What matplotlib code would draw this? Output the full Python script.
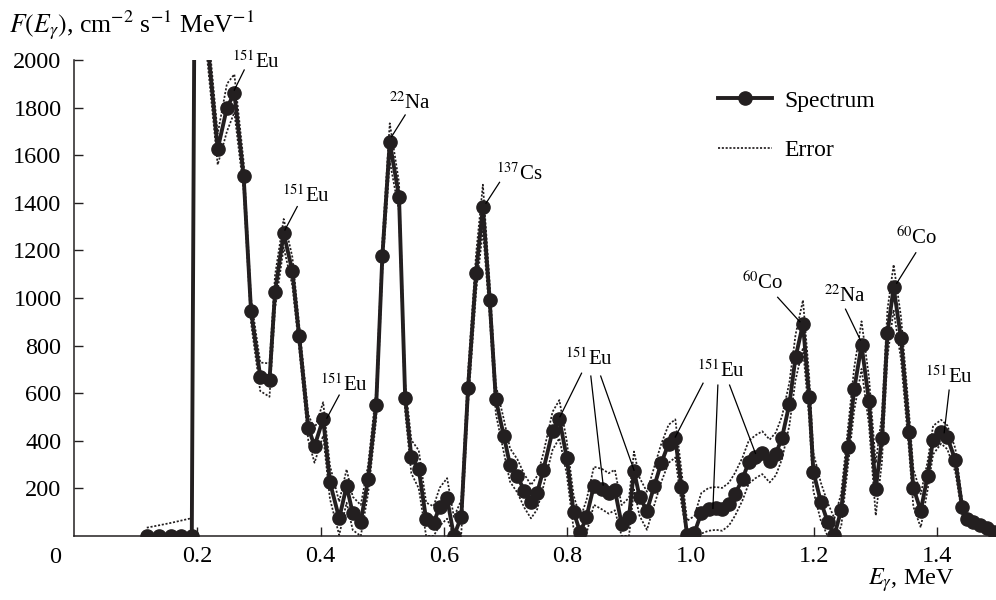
"""Gamma-ray spectrum F(E) with error band and isotope line labels."""

import matplotlib

matplotlib.use("Agg")

import matplotlib.pyplot as plt
import numpy as np

# --------------------------------------------------------------------------- #
# Data
# --------------------------------------------------------------------------- #

energy = [
    0.118, 0.138, 0.157, 0.174, 0.191, 0.196, 0.233, 0.248, 0.260, 0.275,
    0.287, 0.302, 0.317, 0.326, 0.340, 0.354, 0.365, 0.380, 0.390, 0.404,
    0.415, 0.430, 0.442, 0.452, 0.465, 0.477, 0.490, 0.500, 0.512, 0.527,
    0.537, 0.547, 0.559, 0.571, 0.583, 0.593, 0.605, 0.616, 0.628, 0.639,
    0.652, 0.663, 0.674, 0.684, 0.697, 0.707, 0.719, 0.730, 0.741, 0.751,
    0.761, 0.776, 0.787, 0.799, 0.810, 0.821, 0.831, 0.843, 0.856, 0.867,
    0.877, 0.888, 0.900, 0.908, 0.917, 0.929, 0.941, 0.952, 0.964, 0.975,
    0.985, 0.994, 1.006, 1.017, 1.029, 1.041, 1.051, 1.062, 1.072, 1.084,
    1.094, 1.105, 1.116, 1.128, 1.138, 1.148, 1.160, 1.170, 1.182, 1.192,
    1.199, 1.211, 1.222, 1.233, 1.244, 1.255, 1.265, 1.277, 1.289, 1.300,
    1.310, 1.319, 1.329, 1.341, 1.354, 1.361, 1.373, 1.384, 1.393, 1.406,
    1.416, 1.429, 1.440, 1.448, 1.458, 1.469, 1.480, 1.491,
]

flux = [
    0, 0, 0, 0, 0, 2630, 1625, 1800, 1860, 1514,
    947, 669, 655, 1026, 1272, 1113, 841, 455, 378, 492,
    226, 74, 210, 95, 60, 240, 550, 1176, 1654, 1426,
    581, 333, 280, 70, 55, 123, 158, 0, 81, 623,
    1106, 1381, 992, 574, 420, 298, 252, 190, 144, 182,
    277, 442, 491, 329, 102, 15, 81, 211, 197, 179,
    193, 50, 81, 275, 165, 106, 211, 305, 387, 410,
    205, 4, 14, 95, 112, 116, 112, 134, 176, 240,
    310, 333, 350, 315, 345, 413, 555, 751, 891, 583,
    268, 144, 60, 4, 109, 375, 616, 802, 567, 196,
    410, 852, 1045, 830, 438, 203, 106, 252, 403, 438,
    415, 319, 123, 70, 60, 46, 32, 18,
]

flux_err = [
    35, 45, 55, 65, 75, 100, 65, 100, 80, 60,
    50, 60, 70, 70, 60, 60, 50, 55, 70, 70,
    70, 70, 70, 70, 70, 60, 60, 60, 80, 60,
    60, 70, 80, 70, 70, 80, 85, 80, 70, 70,
    80, 95, 70, 60, 70, 70, 70, 70, 70, 70,
    70, 80, 80, 70, 70, 60, 70, 80, 85, 85,
    85, 80, 80, 80, 80, 80, 80, 80, 80, 80,
    70, 60, 70, 85, 90, 90, 90, 90, 90, 90,
    90, 90, 90, 90, 90, 90, 90, 95, 100, 90,
    80, 80, 80, 70, 70, 80, 90, 100, 100, 110,
    100, 100, 95, 90, 80, 80, 70, 60, 60, 50,
    50, 50, 30, 20, 15, 10, 10, 10,
]

# Isotope labels: mass number, element, text anchor (E, F), leader lines
line_labels = [
    ("151", "Eu", (0.256, 1993), [((0.276, 1958), (0.260, 1874))]),
    ("151", "Eu", (0.337, 1426), [((0.362, 1384), (0.342, 1286))]),
    ("151", "Eu", (0.399, 634), [((0.430, 592), (0.410, 495))]),
    ("22", "Na", (0.510, 1818), [((0.537, 1769), (0.515, 1678))]),
    ("137", "Cs", (0.685, 1521), [((0.690, 1486), (0.668, 1398))]),
    ("151", "Eu", (0.796, 742), [((0.823, 684), (0.788, 501)),
                                 ((0.838, 672), (0.858, 214)),
                                 ((0.854, 672), (0.908, 277))]),
    ("151", "Eu", (1.010, 693), [((1.020, 642), (0.975, 416)),
                                 ((1.044, 634), (1.036, 116)),
                                 ((1.063, 634), (1.105, 347))]),
    ("60", "Co", (1.083, 1062), [((1.141, 1003), (1.177, 900))]),
    ("22", "Na", (1.216, 1007), [((1.251, 953), (1.275, 824))]),
    ("60", "Co", (1.333, 1251), [((1.365, 1190), (1.334, 1062))]),
    ("151", "Eu", (1.380, 669), [((1.419, 613), (1.411, 434))]),
]

INK = "#231f20"
DOTTED = (0, (1.2, 1.0))

plt.rcParams["font.family"] = ["Liberation Serif", "DejaVu Serif"]
plt.rcParams["mathtext.fontset"] = "stix"


def _draw_spectrum(ax):
    """Spectrum with markers and dotted upper/lower error curves."""
    e = np.asarray(energy)
    f = np.asarray(flux, dtype=float)
    s = np.asarray(flux_err, dtype=float)

    upper = f + s
    lower = np.clip(f - s, 0.0, None)
    ax.plot(e, upper, color=INK, lw=1.25, ls=DOTTED, zorder=2, label="Error")
    ax.plot(e, lower, color=INK, lw=1.25, ls=DOTTED, zorder=2)
    ax.plot(e, f, "-o", color=INK, lw=2.8, markersize=9.5, zorder=3,
            label="Spectrum")


def _draw_labels(ax):
    """Isotope names with thin leader lines to the peaks."""
    for mass, elem, (tx, ty), leaders in line_labels:
        ax.text(tx, ty, rf"$^{{{mass}}}$" + elem, ha="left", va="center",
                fontsize=15, color="black", zorder=5)
        for (x0, y0), (x1, y1) in leaders:
            ax.plot([x0, x1], [y0, y1], color="black", lw=0.9, zorder=4)


fig = plt.figure(figsize=(9.96, 6.0), dpi=100)
ax = fig.add_axes([74 / 996, 64 / 600, 922 / 996, 476 / 600])

_draw_spectrum(ax)
_draw_labels(ax)

ax.set_xlim(0, 1.495)
ax.set_ylim(0, 2000)
ax.set_xticks([0.2, 0.4, 0.6, 0.8, 1.0, 1.2, 1.4])
ax.set_yticks(np.arange(200, 2001, 200))
ax.tick_params(direction="in", length=6.5, width=1.0, labelsize=17.5,
               color=INK)
ax.tick_params(axis="x", pad=7)
ax.tick_params(axis="y", pad=9)

for side in ("top", "right"):
    ax.spines[side].set_visible(False)
for side in ("left", "bottom"):
    ax.spines[side].set_linewidth(1.1)
    ax.spines[side].set_color(INK)

# shared origin label
ax.text(-0.0206, -0.046, "0", transform=ax.transAxes, ha="center",
        va="center", fontsize=17.5)

ax.set_xlabel(r"$E_\gamma$, MeV", fontsize=17.5, ha="right", va="center")
ax.xaxis.set_label_coords(0.9555, -0.0924)
ax.set_ylabel(r"$F(E_\gamma)$, cm$^{-2}$ s$^{-1}$ MeV$^{-1}$", fontsize=18.5,
              rotation=0, ha="left", va="center")
ax.yaxis.set_label_coords(-0.0705, 1.0735)

handles, labels = ax.get_legend_handles_labels()
order = [labels.index("Spectrum"), labels.index("Error")]
ax.legend([handles[i] for i in order], [labels[i] for i in order],
          loc="upper left", bbox_to_anchor=(718 / 996, 1 - 90 / 600),
          bbox_transform=fig.transFigure, frameon=False, fontsize=17,
          handlelength=2.3, handletextpad=0.5, labelspacing=1.2,
          borderpad=0, borderaxespad=0)

fig.savefig("out.png", dpi=100)
plt.close(fig)
